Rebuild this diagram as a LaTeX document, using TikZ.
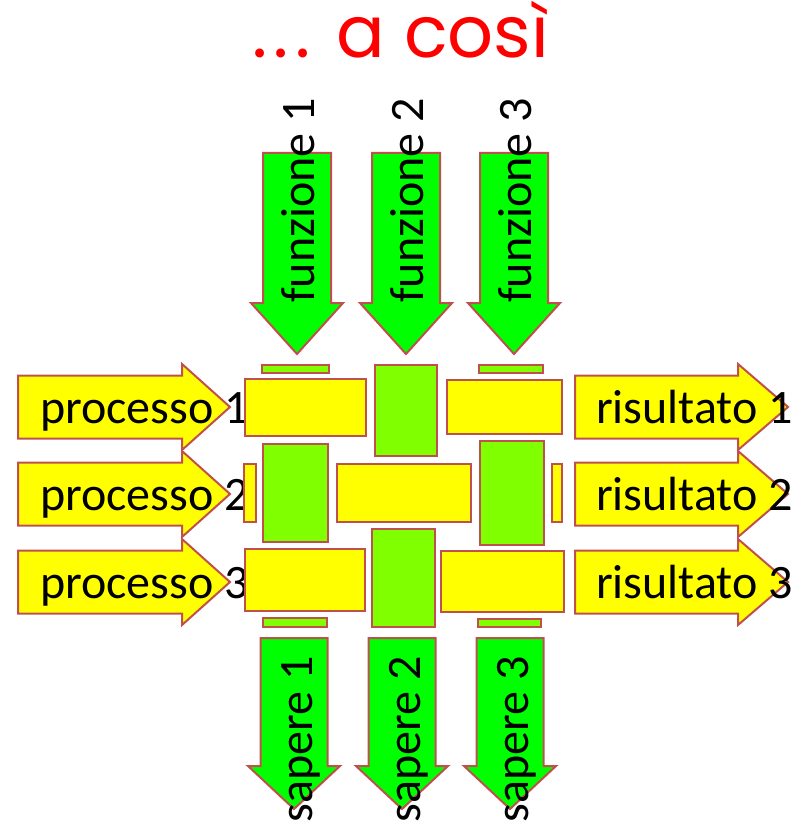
\documentclass[tikz,border=0pt]{standalone}
\usepackage{fontspec}
\setmainfont{Carlito}
\newfontfamily\titlefont{Poppins}
\definecolor{frame}{RGB}{192,80,77}
\definecolor{arrowgreen}{RGB}{0,255,0}
\definecolor{threadgreen}{RGB}{128,255,0}
\definecolor{threadyellow}{RGB}{255,255,0}
\tikzset{weft/.style = {fill=threadyellow, draw=frame, line width=2pt},
         warp/.style = {fill=threadgreen, draw=frame, line width=2pt},
         weftarrow/.style = {fill=threadyellow, draw=frame, line width=2pt},
         warparrow/.style = {fill=arrowgreen, draw=frame, line width=2pt},
         word/.style = {font=\fontsize{48}{56}\selectfont, inner sep=0pt}}

\begin{document}
\begin{tikzpicture}[x=1pt, y=-1pt]
    \useasboundingbox (0, 0) rectangle (805, 826);

    \node [font=\titlefont\fontsize{72}{80}\selectfont, text=red,
           anchor=base west, inner sep=0pt] (title) at (252, 58)
          {.\kern6.5pt.\kern6.5pt. a così};

    % functions coming in from the top
    \foreach \c/\n in {297/1,406/2,514/3} {
      \draw [warparrow] (\c-34, 153) -- (\c+34, 153) -- (\c+34, 303) -- (\c+46, 303)
        -- (\c, 354) -- (\c-46, 303) -- (\c-34, 303) -- cycle;
      \node [word, rotate=90, anchor=base west] (funzione\n) at (\c+17, 303) {funzione \n};
    }

    % knowledge going out at the bottom
    \foreach \c/\n in {294/1,402/2,510/3} {
      \draw [warparrow] (\c-33.5, 638) -- (\c+33.5, 638) -- (\c+33.5, 766) -- (\c+46, 766)
        -- (\c, 809) -- (\c-46, 766) -- (\c-33.5, 766) -- cycle;
      \node [word, rotate=90, anchor=base east] (sapere\n) at (\c+18, 656) {sapere \n};
    }

    % processes in, results out
    \foreach \r/\n in {407/1,494/2,582/3} {
      \draw [weftarrow] (18, \r-31.5) -- (182, \r-31.5) -- (182, \r-43) -- (230, \r)
        -- (182, \r+43) -- (182, \r+31.5) -- (18, \r+31.5) -- cycle;
      \draw [weftarrow] (575, \r-31.5) -- (738, \r-31.5) -- (738, \r-43) -- (788, \r)
        -- (738, \r+43) -- (738, \r+31.5) -- (575, \r+31.5) -- cycle;
      \node [word, anchor=base west] (processo\n) at (40, \r+16) {processo \n};
      \node [word, anchor=base west] (risultato\n) at (596, \r+16) {risultato \n};
    }

    % the weave
    \draw [warp] (262, 365) rectangle (329, 373);
    \draw [weft] (245, 379) rectangle (366, 436);
    \draw [warp] (375, 365) rectangle (437, 456);
    \draw [warp] (479, 365) rectangle (543, 373);
    \draw [weft] (447, 380) rectangle (562, 434);

    \draw [weft] (244, 464) rectangle (256, 522);
    \draw [warp] (263, 444) rectangle (328, 542);
    \draw [weft] (337, 464) rectangle (471, 522);
    \draw [warp] (480, 441) rectangle (544, 545);
    \draw [weft] (552, 464) rectangle (562, 522);

    \draw [weft] (245, 549) rectangle (365, 611);
    \draw [warp] (372, 529) rectangle (435, 627);
    \draw [weft] (441, 551) rectangle (564, 612);
    \draw [warp] (263, 618) rectangle (327, 627);
    \draw [warp] (478, 619) rectangle (541, 627);
  \end{tikzpicture}
\end{document}
